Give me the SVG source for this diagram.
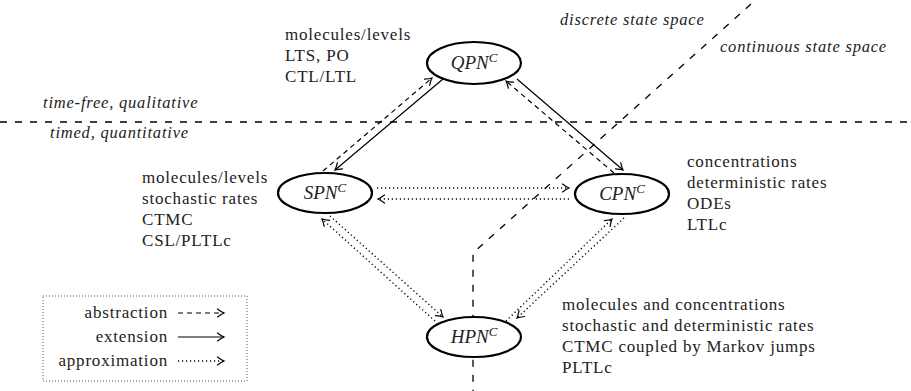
<svg xmlns="http://www.w3.org/2000/svg" width="911" height="391" viewBox="0 0 911 391">
  <style>
    .it { font-family: "Liberation Serif", "Times New Roman", serif; font-style: italic; font-size: 16.5px; letter-spacing: 0.8px; fill: #222; }
    .up { font-family: "Liberation Serif", "Times New Roman", serif; font-style: normal; font-size: 17px; letter-spacing: 0.8px; fill: #222; }
    .lbl { font-family: "Liberation Serif", "Times New Roman", serif; font-style: italic; font-size: 19px; fill: #222; text-anchor: middle; }
    .sup { font-size: 13px; }
    .node { fill: #fff; stroke: #000; stroke-width: 2.2; }
    .divider { fill: none; stroke: #000; stroke-width: 1.3; stroke-dasharray: 7 8; }
    .solid { fill: none; stroke: #000; stroke-width: 1.2; marker-end: url(#tip); }
    .dash { fill: none; stroke: #000; stroke-width: 1.2; stroke-dasharray: 5 4; marker-end: url(#tip); }
    .dot { fill: none; stroke: #000; stroke-width: 1.4; stroke-dasharray: 1.2 2.8; marker-end: url(#tip); }
  </style>
  <defs>
    <marker id="tip" markerUnits="userSpaceOnUse" orient="auto" refX="0" refY="0" markerWidth="12" markerHeight="12" viewBox="-8 -6 12 12" overflow="visible">
      <path d="M -6.5,-4 Q -2.5,-1 0,0 Q -2.5,1 -6.5,4" fill="none" stroke="#000" stroke-width="1.2" stroke-dasharray="none" stroke-linecap="round"/>
    </marker>
  </defs>

  <!-- region dividers -->
  <g id="dividers">
    <line class="divider" x1="0" y1="122" x2="911" y2="122"/>
    <polyline class="divider" points="751,4 473,253 473,391" stroke-dasharray="7 10"/>
  </g>

  <!-- region captions -->
  <g id="captions">
    <text class="it" x="43" y="108">time-free, qualitative</text>
    <text class="it" x="50" y="138">timed, quantitative</text>
    <text class="it" x="560" y="25">discrete state space</text>
    <text class="it" x="720" y="52">continuous state space</text>
  </g>

  <!-- connectors -->
  <g id="connectors">
    <line class="dash" x1="323" y1="171" x2="432" y2="78"/>
    <line class="solid" x1="443" y1="79" x2="335" y2="170"/>
    <line class="dash" x1="614" y1="173" x2="506" y2="81"/>
    <line class="solid" x1="517" y1="79" x2="623" y2="170"/>
    <line class="dot" x1="377" y1="188" x2="569" y2="188"/>
    <line class="dot" x1="569" y1="199" x2="378" y2="199"/>
    <line class="dot" x1="435" y1="321" x2="322" y2="219"/>
    <line class="dot" x1="330" y1="216" x2="443" y2="317"/>
    <line class="dot" x1="506" y1="321" x2="612" y2="219"/>
    <line class="dot" x1="624" y1="218" x2="517" y2="318"/>
  </g>

  <!-- nodes -->
  <g id="qpn">
    <ellipse class="node" cx="474" cy="63" rx="47" ry="21"/>
    <text class="lbl" x="474" y="69">QPN<tspan class="sup" dy="-7">C</tspan></text>
    <text class="up" x="285" y="40">molecules/levels</text>
    <text class="up" x="285" y="61">LTS, PO</text>
    <text class="up" x="285" y="82">CTL/LTL</text>
  </g>
  <g id="spn">
    <ellipse class="node" cx="325" cy="193" rx="47" ry="20"/>
    <text class="lbl" x="325" y="199">SPN<tspan class="sup" dy="-7">C</tspan></text>
    <text class="up" x="142" y="183">molecules/levels</text>
    <text class="up" x="142" y="204">stochastic rates</text>
    <text class="up" x="142" y="225">CTMC</text>
    <text class="up" x="142" y="246">CSL/PLTLc</text>
  </g>
  <g id="cpn">
    <ellipse class="node" cx="622" cy="194" rx="47" ry="20"/>
    <text class="lbl" x="622" y="200">CPN<tspan class="sup" dy="-7">C</tspan></text>
    <text class="up" x="687" y="167">concentrations</text>
    <text class="up" x="687" y="188">deterministic rates</text>
    <text class="up" x="687" y="209">ODEs</text>
    <text class="up" x="687" y="230">LTLc</text>
  </g>
  <g id="hpn">
    <ellipse class="node" cx="474" cy="337" rx="47" ry="20"/>
    <text class="lbl" x="474" y="343">HPN<tspan class="sup" dy="-7">C</tspan></text>
    <text class="up" x="562" y="310">molecules and concentrations</text>
    <text class="up" x="562" y="331">stochastic and deterministic rates</text>
    <text class="up" x="562" y="352">CTMC coupled by Markov jumps</text>
    <text class="up" x="562" y="373">PLTLc</text>
  </g>

  <!-- legend -->
  <g id="legend">
    <rect x="43" y="296" width="204" height="85" fill="none" stroke="#555" stroke-width="1" stroke-dasharray="1 2"/>
    <text class="up" x="168" y="318" text-anchor="end">abstraction</text>
    <text class="up" x="168" y="342" text-anchor="end">extension</text>
    <text class="up" x="168" y="366" text-anchor="end">approximation</text>
    <line class="dash" x1="178" y1="313" x2="224" y2="313"/>
    <line class="solid" x1="178" y1="337" x2="224" y2="337"/>
    <line class="dot" x1="178" y1="361" x2="224" y2="361"/>
  </g>
</svg>
